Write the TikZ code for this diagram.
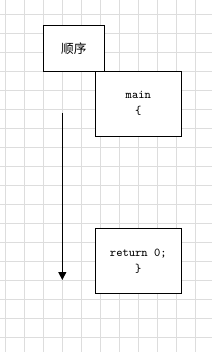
\documentclass[tikz,border=0pt]{standalone}
\usepackage{fontspec}
\newfontfamily\cjk{Noto Sans CJK SC}
\usetikzlibrary{arrows.meta}
\begin{document}
\begin{tikzpicture}[x=0.75pt, y=-0.75pt,
  codebox/.style={draw=black, line width=0.75pt, fill=white, align=center,
    inner sep=0pt, font=\ttfamily\fontsize{9}{12}\selectfont},
  flowarrow/.style={line width=0.75pt, -{Triangle[width=6pt,length=6pt]}}]
\definecolor{gridgray}{RGB}{221,221,221}
\useasboundingbox (0,0) rectangle (212,352);
\fill[white] (0,0) rectangle (212,352);
% Background grid
\foreach \i in {0,1,...,10} {
  \draw[gridgray, line width=0.75pt] ({5.3+19*\i},0) -- ({5.3+19*\i},352);
}
\foreach \j in {0,1,...,17} {
  \draw[gridgray, line width=0.75pt] (0,{14.3+19*\j}) -- (212,{14.3+19*\j});
}
% Boxes
\node[codebox, minimum width=45.75pt, minimum height=34.3pt,
  font=\cjk\fontsize{9.5}{12}\selectfont] (order) at (73.8,48.2) {顺序};
\node[codebox, minimum width=64.5pt, minimum height=48.6pt] (mainbox) at (138.3,103.7) {main\\\{};
\node[codebox, minimum width=64.5pt, minimum height=48.6pt] (retbox) at (138.3,260.8) {return 0;\\\}};
% Flow arrow
\coordinate (flowtop) at (62.3,113);
\coordinate (flowend) at (62.3,280);
\draw[flowarrow] (flowtop) -- (flowend);
\end{tikzpicture}
\end{document}
